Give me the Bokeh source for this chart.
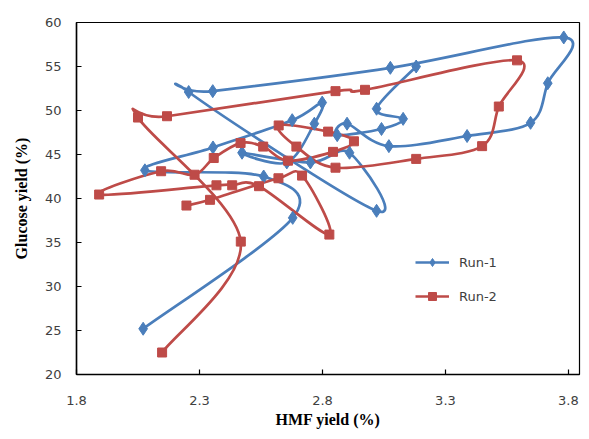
from bokeh.plotting import figure
from bokeh.models import Range1d, FixedTicker, Legend, LegendItem, ColumnDataSource
from bokeh.embed import file_html
from bokeh.resources import INLINE

# Run-1 (HMF yield, Glucose yield) in run order
run1_x = [2.071, 2.679, 2.561, 2.078, 2.355, 2.677, 2.799, 2.767, 2.655, 2.473, 2.751, 2.91, 3.02,
          2.256, 2.354, 3.076, 3.781, 3.716, 3.646, 3.388, 3.07, 2.90, 2.86, 3.04, 3.128, 3.02, 3.181]
run1_y = [25.2, 37.8, 42.5, 43.2, 45.8, 48.9, 50.9, 48.5, 44.1, 45.2, 44.1, 45.2, 38.6,
          52.1, 52.2, 54.85, 58.3, 53.1, 48.6, 47.1, 45.95, 48.5, 47.2, 47.9, 49.05, 50.2, 55.0]
# Run-2
run2_x = [2.148, 2.468, 2.05, 2.168, 2.853, 2.973, 3.591, 3.517, 3.449, 3.181, 2.853, 2.694,
          2.622, 2.823, 2.928, 2.843, 2.66, 2.559, 2.467, 2.358, 2.28, 2.144, 1.892, 2.369,
          2.433, 2.542, 2.828, 2.717, 2.621, 2.343, 2.247]
run2_y = [22.5, 35.1, 49.2, 49.35, 52.2, 52.35, 55.7, 50.45, 45.95, 44.5, 43.5, 45.9,
          48.3, 47.6, 46.5, 45.3, 44.3, 45.9, 46.3, 44.6, 42.7, 43.1, 40.45, 41.5,
          41.5, 41.4, 35.9, 42.6, 42.3, 39.85, 39.2]

x_ticks = [1.8, 2.3, 2.8, 3.3, 3.8]
y_ticks = [20, 25, 30, 35, 40, 45, 50, 55, 60]

BLUE = "#4A7EBB"
RED = "#BE4B48"


def smooth_segments(xs, ys):
    """Excel-style smoothed line: cubic Bezier control points from neighbours."""
    n = len(xs)
    seg = dict(x0=[], y0=[], x1=[], y1=[], cx0=[], cy0=[], cx1=[], cy1=[])
    for i in range(n - 1):
        xp, yp = (xs[i - 1], ys[i - 1]) if i > 0 else (xs[i], ys[i])
        xn, yn = (xs[i + 2], ys[i + 2]) if i + 2 < n else (xs[i + 1], ys[i + 1])
        seg["x0"].append(xs[i]); seg["y0"].append(ys[i])
        seg["x1"].append(xs[i + 1]); seg["y1"].append(ys[i + 1])
        seg["cx0"].append(xs[i] + (xs[i + 1] - xp) / 6.0)
        seg["cy0"].append(ys[i] + (ys[i + 1] - yp) / 6.0)
        seg["cx1"].append(xs[i + 1] - (xn - xs[i]) / 6.0)
        seg["cy1"].append(ys[i + 1] - (yn - ys[i]) / 6.0)
    return ColumnDataSource(seg)


p = figure(width=581, height=431, output_backend="svg", toolbar_location=None,
           x_range=Range1d(1.8, 3.845), y_range=Range1d(20, 60),
           min_border_left=76, min_border_right=2, min_border_top=22, min_border_bottom=57)
p.background_fill_color = "white"
p.border_fill_color = "white"
p.outline_line_color = "black"
p.outline_line_width = 1.2
p.xgrid.visible = False
p.ygrid.visible = False

for ax in (p.xaxis[0], p.yaxis[0]):
    ax.axis_line_color = "black"
    ax.axis_line_width = 1.5
    ax.major_tick_in = 5
    ax.major_tick_out = 0
    ax.major_tick_line_color = "black"
    ax.major_tick_line_width = 1.2
    ax.minor_tick_line_color = None
    ax.major_label_text_font = "DejaVu Sans"
    ax.major_label_text_font_size = "13px"
    ax.major_label_text_color = "#404040"
    ax.axis_label_text_font = "Liberation Serif"
    ax.axis_label_text_font_style = "bold"
    ax.axis_label_text_font_size = "16px"
    ax.axis_label_text_color = "black"

p.xaxis.ticker = FixedTicker(ticks=x_ticks)
p.yaxis.ticker = FixedTicker(ticks=y_ticks)
p.xaxis.major_label_standoff = 21
p.yaxis.major_label_standoff = 15
p.xaxis.axis_label = "HMF yield (%)"
p.yaxis.axis_label = "Glucose yield (%)"
p.xaxis.axis_label_standoff = 3
p.yaxis.axis_label_standoff = 12

b1 = p.bezier(x0="x0", y0="y0", x1="x1", y1="y1", cx0="cx0", cy0="cy0", cx1="cx1", cy1="cy1",
              source=smooth_segments(run1_x, run1_y), line_color=BLUE, line_width=2.7)
b2 = p.bezier(x0="x0", y0="y0", x1="x1", y1="y1", cx0="cx0", cy0="cy0", cx1="cx1", cy1="cy1",
              source=smooth_segments(run2_x, run2_y), line_color=RED, line_width=2.7)
m1 = p.scatter(run1_x, run1_y, marker="diamond", size=13, fill_color=BLUE, line_color=BLUE)
m2 = p.scatter(run2_x, run2_y, marker="square", size=9, fill_color=RED, line_color=RED)

legend = Legend(items=[LegendItem(label="Run-1", renderers=[b1, m1]),
                       LegendItem(label="Run-2", renderers=[b2, m2])],
                location=(339, 68), border_line_color=None, background_fill_alpha=0,
                label_text_font="DejaVu Sans", label_text_font_size="13px",
                label_text_color="#404040", glyph_width=34, spacing=14, label_standoff=10)
p.add_layout(legend)

open("out.html", "w").write(file_html(p, INLINE))
